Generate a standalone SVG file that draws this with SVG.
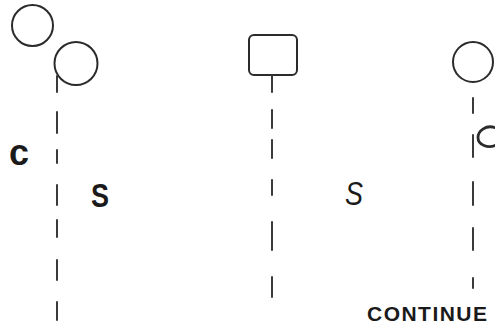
<svg xmlns="http://www.w3.org/2000/svg" width="495" height="325" viewBox="0 0 495 325">
<style>
.shape{fill:none;stroke:#2b2b2b;stroke-width:2}
.dash{stroke:#3a3a3a;stroke-width:2;stroke-linecap:round;fill:none}
.lbl{font-family:"Liberation Sans",Arial,sans-serif;fill:#1a1a1a}
</style>
<rect width="495" height="325" fill="#ffffff"/>
<g id="node-circle-a"><circle class="shape" cx="32.5" cy="25.5" r="20.5"/></g>
<g id="node-circle-b"><circle class="shape" cx="76" cy="63.5" r="21.5"/></g>
<g id="node-box"><rect class="shape" x="249" y="35" width="48" height="40" rx="5"/></g>
<g id="node-circle-c"><circle class="shape" cx="473" cy="62" r="20"/></g>
<g id="connectors">
<path class="dash" d="M57,76 V92 M57,112 V133 M57,150 V163 M57,185 V205 M57,220 V237 M57,260 V280 M57,302 V320"/>
<path class="dash" d="M272,75 V92 M272,110 V128 M272,140 V158 M272,180 V195 M272,222 V250 M272,277 V297"/>
<path class="dash" d="M473,98 V113 M473,135 V157 M473,182 V205 M473,228 V250 M473,278 V288"/>
</g>
<path d="M496,128 C486,124 478,131 478,137.5 C478,145 488,149 496,145" fill="none" stroke="#2b2b2b" stroke-width="2.8"/>
<text class="lbl" x="9" y="165" font-size="36" font-weight="bold" textLength="20" lengthAdjust="spacingAndGlyphs">c</text>
<text class="lbl" x="91" y="207" font-size="33" font-weight="bold" textLength="18" lengthAdjust="spacingAndGlyphs">S</text>
<text class="lbl" x="345" y="205" font-size="34" font-style="italic" textLength="18" lengthAdjust="spacingAndGlyphs">S</text>
<text class="lbl" x="367" y="321" font-size="21" font-weight="bold" textLength="120" lengthAdjust="spacing">CONTINUE</text>
</svg>
